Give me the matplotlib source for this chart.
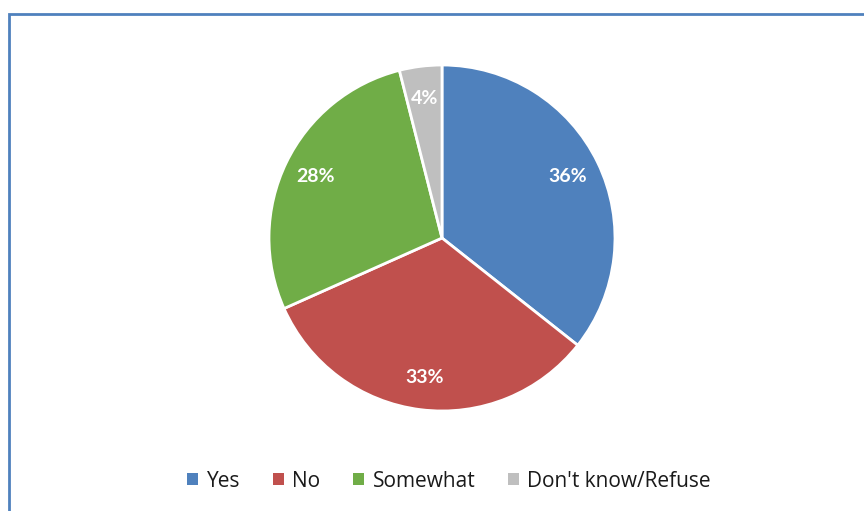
import matplotlib.pyplot as plt
from matplotlib.patches import Rectangle

labels = ["Yes", "No", "Somewhat", "Don't know/Refuse"]
values = [36, 33, 28, 4]
colors = ["#4F81BD", "#C0504D", "#70AD47", "#BFBFBF"]

plt.rcParams['font.family'] = ['Open Sans', 'DejaVu Sans']

fig = plt.figure(figsize=(8.64, 5.11), dpi=100)

# chart frame: only the left and top edges fall inside the image
frame = Rectangle((9 / 864, -1.0), 2.0, 1.0 + (1 - 14 / 511), transform=fig.transFigure,
                  fill=False, edgecolor="#4F81BD", linewidth=2)
fig.add_artist(frame)

pie_ax = fig.add_axes([(442 - 173) / 864, 1 - (238 + 173) / 511, 346 / 864, 346 / 511])
wedges, texts = pie_ax.pie(values, colors=colors, startangle=90, counterclock=False,
                           labels=[f"{v}%" for v in values], labeldistance=0.81,
                           wedgeprops=dict(edgecolor="white", linewidth=2),
                           textprops=dict(color="white", fontsize=14, fontweight="bold",
                                          family=["Lato", "DejaVu Sans"]))
for t in texts:
    t.set_horizontalalignment("center")
    t.set_verticalalignment("center")
pie_ax.set_xlim(-1, 1)
pie_ax.set_ylim(-1, 1)
pie_ax.set_aspect('equal')

fig.legend(wedges, labels, loc="center", bbox_to_anchor=(449 / 864, 1 - 481 / 511),
           ncol=4, frameon=False, fontsize=15, handlelength=0.55, handleheight=0.55,
           handletextpad=0.4, columnspacing=1.55, labelcolor="#1a1a1a")
for h in fig.legends[0].legend_handles:
    h.set_edgecolor("none")

fig.savefig("out.png", dpi=100)
